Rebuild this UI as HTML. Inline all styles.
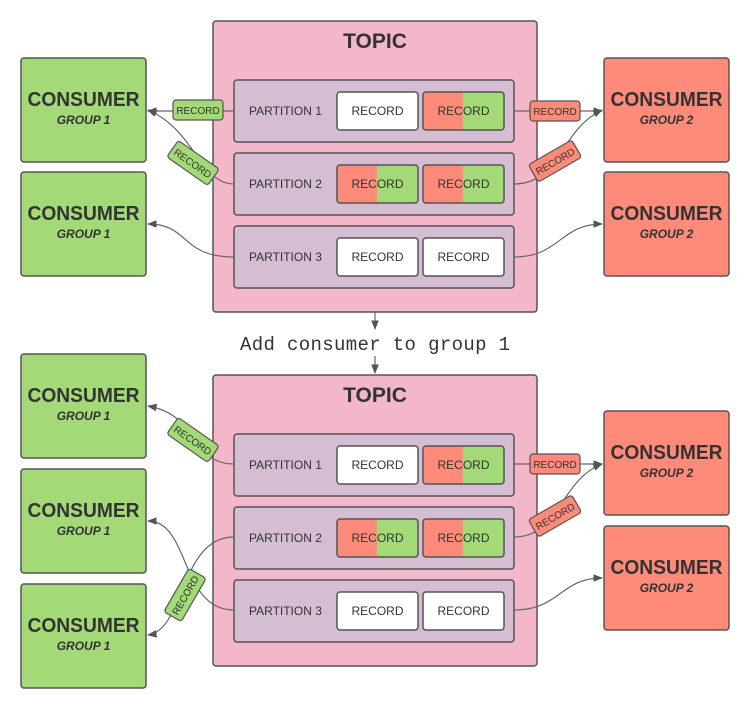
<!DOCTYPE html>
<html><head><meta charset="utf-8"><style>
body{margin:0;background:#fff}
svg{display:block}
text{font-family:"Liberation Sans",sans-serif;fill:#333}
.c{font-weight:bold;font-size:20px}
.g{font-size:12px;font-style:italic;font-weight:bold}
.p{font-size:12px}
.r{font-size:12px}
.l{font-size:10px}
</style></head><body>
<svg width="750" height="708" viewBox="0 0 750 708" xmlns="http://www.w3.org/2000/svg">
<defs>
<marker id="a" viewBox="0 0 10 10" refX="9" refY="5" markerWidth="8" markerHeight="8" orient="auto-start-reverse"><path d="M0,1 L10,5 L0,9 z" fill="#555"/></marker>
<g id="rw"><rect x="0" y="0" width="81" height="38" rx="3" fill="#fff" stroke="#555" stroke-width="1.5"/><text class="r" x="40.5" y="23" text-anchor="middle">RECORD</text></g>
<g id="rm"><path d="M3,0 H40 V38 H3 A3,3 0 0 1 0,35 V3 A3,3 0 0 1 3,0z" fill="#fe8a7a"/><path d="M40,0 H78 A3,3 0 0 1 81,3 V35 A3,3 0 0 1 78,38 H40z" fill="#a3d977"/><rect x="0" y="0" width="81" height="38" rx="3" fill="none" stroke="#555" stroke-width="1.5"/><text class="r" x="40.5" y="23" text-anchor="middle">RECORD</text></g>
<g id="lg"><rect x="-25" y="-10" width="50" height="20" rx="3" fill="#a3d977" stroke="#555" stroke-width="1.2"/><text class="l" x="0" y="4" text-anchor="middle">RECORD</text></g>
<g id="lr"><rect x="-25" y="-10" width="50" height="20" rx="3" fill="#fe8a7a" stroke="#555" stroke-width="1.2"/><text class="l" x="0" y="4" text-anchor="middle">RECORD</text></g>
<g id="cg"><rect x="0" y="0" width="125" height="104" rx="3" fill="#a3d977" stroke="#555" stroke-width="1.5"/><text class="c" x="62.5" y="48" text-anchor="middle" textLength="112" lengthAdjust="spacingAndGlyphs">CONSUMER</text><text class="g" x="62.5" y="66" text-anchor="middle">GROUP 1</text></g>
<g id="cr"><rect x="0" y="0" width="125" height="104" rx="3" fill="#fe8a7a" stroke="#555" stroke-width="1.5"/><text class="c" x="62.5" y="48" text-anchor="middle" textLength="112" lengthAdjust="spacingAndGlyphs">CONSUMER</text><text class="g" x="62.5" y="66" text-anchor="middle">GROUP 2</text></g>
<g id="topic">
<rect x="213" y="0" width="324" height="291" rx="3" fill="#f4b6c9" stroke="#555" stroke-width="1.5"/>
<text x="375" y="27" text-anchor="middle" style="font-size:21px;font-weight:bold">TOPIC</text>
<rect x="234" y="59" width="280" height="62" rx="3" fill="#d5bdd4" stroke="#555" stroke-width="1.5"/>
<rect x="234" y="132" width="280" height="62" rx="3" fill="#d5bdd4" stroke="#555" stroke-width="1.5"/>
<rect x="234" y="205" width="280" height="62" rx="3" fill="#d5bdd4" stroke="#555" stroke-width="1.5"/>
<text class="p" x="249" y="94">PARTITION 1</text>
<text class="p" x="249" y="167">PARTITION 2</text>
<text class="p" x="249" y="240">PARTITION 3</text>
<use href="#rw" x="337" y="71"/><use href="#rm" x="423" y="71"/>
<use href="#rm" x="337" y="144"/><use href="#rm" x="423" y="144"/>
<use href="#rw" x="337" y="217"/><use href="#rw" x="423" y="217"/>
</g>
</defs>
<use href="#topic" x="0" y="21"/>
<use href="#topic" x="0" y="375"/>
<g fill="none" stroke="#666" stroke-width="1.2">
<path d="M234,111 H148" marker-end="url(#a)"/>
<path d="M234,184 C200,184 195,130 148,110" marker-end="url(#a)"/>
<path d="M234,257 C180,257 190,224 148,224" marker-end="url(#a)"/>
<path d="M514,111 H602" marker-end="url(#a)"/>
<path d="M514,184 C560,184 560,130 602,110" marker-end="url(#a)"/>
<path d="M514,257 C560,257 560,224 602,224" marker-end="url(#a)"/>
<path d="M234,464 C190,464 200,415 148,406" marker-end="url(#a)"/>
<path d="M234,537 C180,537 185,630 148,635" marker-end="url(#a)"/>
<path d="M234,610 C180,610 190,521 148,521" marker-end="url(#a)"/>
<path d="M514,464 H602" marker-end="url(#a)"/>
<path d="M514,537 C560,537 560,480 602,464" marker-end="url(#a)"/>
<path d="M514,610 C560,610 560,578 602,578" marker-end="url(#a)"/>
<path d="M375,312 V329" marker-end="url(#a)"/>
<path d="M375,356 V373" marker-end="url(#a)"/>
</g>
<use href="#cg" x="21" y="58"/><use href="#cg" x="21" y="172"/>
<use href="#cr" x="604" y="58"/><use href="#cr" x="604" y="172"/>
<use href="#cg" x="21" y="354"/><use href="#cg" x="21" y="469"/><use href="#cg" x="21" y="584"/>
<use href="#cr" x="604" y="411"/><use href="#cr" x="604" y="526"/>
<use href="#lg" transform="translate(198,110)"/>
<use href="#lg" transform="translate(193,163) rotate(35)"/>
<use href="#lr" transform="translate(555,111)"/>
<use href="#lr" transform="translate(555,161) rotate(-30)"/>
<use href="#lg" transform="translate(193,440) rotate(35)"/>
<use href="#lg" transform="translate(185,595) rotate(-60)"/>
<use href="#lr" transform="translate(555,464)"/>
<use href="#lr" transform="translate(555,516) rotate(-30)"/>
<text x="375" y="350" text-anchor="middle" style="font-family:'Liberation Mono',monospace;font-size:19px" textLength="270">Add consumer to group 1</text>
</svg>
</body></html>
